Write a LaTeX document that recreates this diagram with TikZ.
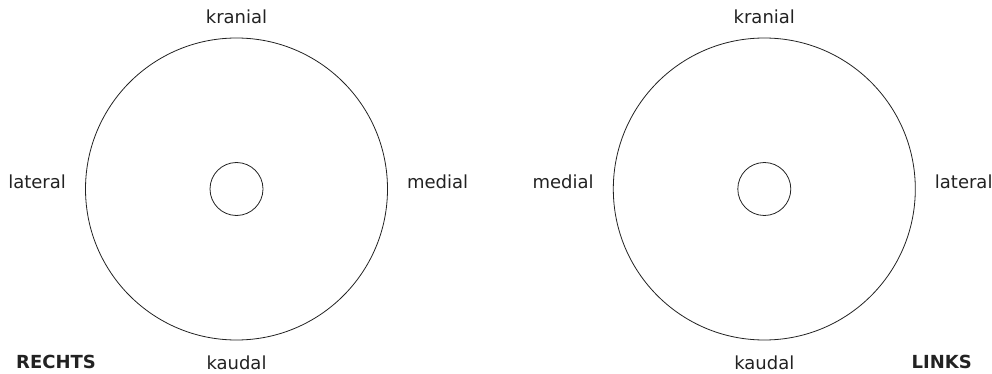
\documentclass[tikz,border=0pt]{standalone}
\usepackage{fontspec}
\setsansfont{DejaVu Sans}
\usetikzlibrary{positioning}
\definecolor{inkgray}{HTML}{222222}
\tikzset{
    font=\sffamily,
    % Shapes
    ring/.style={circle, draw=inkgray, line width=0.8pt, minimum size=302pt, inner sep=0pt},
    hole/.style={circle, draw=inkgray, line width=0.8pt, minimum size=53pt, inner sep=0pt},
    % Labels
    lbl/.style={font=\sffamily\fontsize{18}{20}\selectfont, text=inkgray, inner sep=0pt},
    side/.style={font=\sffamily\bfseries\fontsize{18}{20}\selectfont, text=inkgray, inner sep=0pt}
}

\begin{document}
\begin{tikzpicture}[x=1pt, y=-1pt]
\useasboundingbox (0,0) rectangle (992,374);

% rechte Seite
\node[ring] (rring) at (236.5,189) {};
\node[hole] (rhole) at (rring.center) {};
\node[lbl, above=14pt of rring] (rkran) {kranial};
\node[lbl, below=15pt of rring] (rkaud) {kaudal};
\node[lbl, anchor=base east] (rlat) at ([xshift=-19pt, yshift=1pt]rring.west) {lateral};
\node[lbl, anchor=base west] (rmed) at ([xshift=19pt, yshift=1pt]rring.east) {medial};
\node[side, anchor=base west] (rechts) at (16,368) {RECHTS};

% linke Seite
\node[ring] (lring) at (764.3,189) {};
\node[hole] (lhole) at (lring.center) {};
\node[lbl, above=14pt of lring] (lkran) {kranial};
\node[lbl, below=15pt of lring] (lkaud) {kaudal};
\node[lbl, anchor=base east] (lmed) at ([xshift=-19pt, yshift=1pt]lring.west) {medial};
\node[lbl, anchor=base west] (llat) at ([xshift=19pt, yshift=1pt]lring.east) {lateral};
\node[side, anchor=base east] (links) at (972,368) {LINKS};

\end{tikzpicture}
\end{document}
